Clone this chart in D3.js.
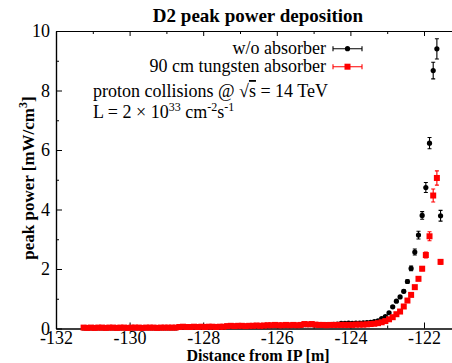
<!DOCTYPE html>
<html>
<head>
<meta charset="utf-8">
<script src="https://cdn.jsdelivr.net/npm/d3@7"></script>
<style>
  body { margin: 0; background: #fff; }
  svg { display: block; font-family: "Liberation Serif", "Times New Roman", serif; }
</style>
</head>
<body>
<svg id="chart" width="452" height="363"></svg>
<script>
// ---------------- data ----------------
const distance = [
  -131.25, -131.15, -131.05, -130.95, -130.85, -130.75, -130.65, -130.55, -130.45, -130.35,
  -130.25, -130.15, -130.05, -129.95, -129.85, -129.75, -129.65, -129.55, -129.45, -129.35,
  -129.25, -129.15, -129.05, -128.95, -128.85, -128.75, -128.65, -128.55, -128.45, -128.35,
  -128.25, -128.15, -128.05, -127.95, -127.85, -127.75, -127.65, -127.55, -127.45, -127.35,
  -127.25, -127.15, -127.05, -126.95, -126.85, -126.75, -126.65, -126.55, -126.45, -126.35,
  -126.25, -126.15, -126.05, -125.95, -125.85, -125.75, -125.65, -125.55, -125.45, -125.35,
  -125.25, -125.15, -125.05, -124.95, -124.85, -124.75, -124.65, -124.55, -124.45, -124.35,
  -124.25, -124.15, -124.05, -123.95, -123.85, -123.75, -123.65, -123.55, -123.45, -123.35,
  -123.25, -123.15, -123.05, -122.95, -122.85, -122.75, -122.65, -122.55, -122.45, -122.35,
  -122.25, -122.15, -122.05, -121.95, -121.85, -121.75, -121.65, -121.55
];
const noAbsorber = [
  0.02, 0.02, 0.02, 0.02, 0.02, 0.02, 0.02, 0.02, 0.02, 0.02,
  0.02, 0.02, 0.02, 0.02, 0.02, 0.02, 0.02, 0.02, 0.02, 0.02,
  0.02, 0.02, 0.02, 0.02, 0.02, 0.02, 0.04, 0.05, 0.04, 0.04,
  0.05, 0.04, 0.05, 0.05, 0.05, 0.05, 0.04, 0.05, 0.05, 0.07,
  0.08, 0.07, 0.08, 0.08, 0.07, 0.08, 0.08, 0.09, 0.08, 0.09,
  0.10, 0.10, 0.11, 0.10, 0.10, 0.11, 0.10, 0.11, 0.10, 0.11,
  0.13, 0.13, 0.13, 0.12, 0.11, 0.11, 0.12, 0.13, 0.14, 0.15,
  0.17, 0.17, 0.18, 0.17, 0.18, 0.18, 0.19, 0.20, 0.21, 0.23,
  0.26, 0.33, 0.40, 0.53, 0.73, 0.92, 1.06, 1.25, 1.58, 2.02,
  2.57, 3.14, 3.80, 4.74, 6.23, 8.67, 9.40, 3.79
];
const noAbsorberErr = [
  0.03, 0.03, 0.03, 0.03, 0.03, 0.03, 0.03, 0.03, 0.03, 0.03,
  0.03, 0.03, 0.03, 0.03, 0.03, 0.03, 0.03, 0.03, 0.03, 0.03,
  0.03, 0.03, 0.03, 0.03, 0.03, 0.03, 0.03, 0.03, 0.03, 0.03,
  0.03, 0.03, 0.03, 0.03, 0.03, 0.03, 0.03, 0.03, 0.03, 0.03,
  0.03, 0.03, 0.03, 0.03, 0.03, 0.03, 0.03, 0.03, 0.03, 0.03,
  0.03, 0.03, 0.03, 0.03, 0.03, 0.03, 0.03, 0.03, 0.03, 0.03,
  0.03, 0.03, 0.03, 0.03, 0.03, 0.03, 0.03, 0.03, 0.03, 0.03,
  0.03, 0.03, 0.03, 0.03, 0.03, 0.03, 0.03, 0.03, 0.03, 0.03,
  0.03, 0.03, 0.03, 0.03, 0.03, 0.03, 0.04, 0.05, 0.06, 0.08,
  0.10, 0.13, 0.13, 0.17, 0.19, 0.28, 0.34, 0.18
];
const tungsten = [
  0.03, 0.02, 0.03, 0.02, 0.03, 0.03, 0.02, 0.03, 0.03, 0.02,
  0.03, 0.03, 0.02, 0.03, 0.03, 0.03, 0.02, 0.03, 0.03, 0.03,
  0.02, 0.03, 0.03, 0.03, 0.03, 0.03, 0.05, 0.06, 0.05, 0.05,
  0.06, 0.05, 0.06, 0.05, 0.06, 0.06, 0.05, 0.06, 0.06, 0.08,
  0.09, 0.08, 0.09, 0.09, 0.08, 0.09, 0.09, 0.10, 0.09, 0.10,
  0.11, 0.11, 0.12, 0.11, 0.11, 0.12, 0.11, 0.12, 0.11, 0.12,
  0.15, 0.14, 0.15, 0.13, 0.12, 0.12, 0.11, 0.12, 0.12, 0.12,
  0.12, 0.12, 0.12, 0.12, 0.13, 0.13, 0.13, 0.14, 0.15, 0.16,
  0.18, 0.21, 0.25, 0.31, 0.38, 0.48, 0.57, 0.74, 0.94, 1.13,
  1.39, 1.67, 2.01, 2.47, 3.10, 4.47, 5.06, 2.24
];
const tungstenErr = [
  0.01, 0.01, 0.01, 0.01, 0.01, 0.01, 0.01, 0.01, 0.01, 0.01,
  0.01, 0.01, 0.01, 0.01, 0.01, 0.01, 0.01, 0.01, 0.01, 0.01,
  0.01, 0.01, 0.01, 0.01, 0.01, 0.01, 0.01, 0.01, 0.01, 0.01,
  0.01, 0.01, 0.01, 0.01, 0.01, 0.01, 0.01, 0.01, 0.01, 0.01,
  0.01, 0.01, 0.01, 0.01, 0.01, 0.01, 0.01, 0.01, 0.01, 0.01,
  0.01, 0.01, 0.01, 0.01, 0.01, 0.01, 0.01, 0.01, 0.01, 0.01,
  0.01, 0.01, 0.01, 0.01, 0.01, 0.01, 0.01, 0.01, 0.01, 0.01,
  0.01, 0.01, 0.01, 0.01, 0.01, 0.01, 0.01, 0.01, 0.01, 0.01,
  0.01, 0.01, 0.01, 0.02, 0.02, 0.02, 0.03, 0.03, 0.04, 0.04,
  0.05, 0.06, 0.07, 0.10, 0.15, 0.22, 0.24, 0.08
];
const xTicks = [-132, -130, -128, -126, -124, -122];
const xMinorTicks = [-131, -129, -127, -125, -123];
const yTicks = [0, 2, 4, 6, 8, 10];
const yMinorTicks = [1, 3, 5, 7, 9];
const seriesNames = ["w/o absorber", "90 cm tungsten absorber"];
const seriesColors = ["#000000", "#ff0000"];

// ---------------- layout ----------------
const svg = d3.select("#chart");
const plotLeft = 56, plotTop = 31, plotBottom = 328.5;
const x = d3.scaleLinear().domain([-132, -121]).range([plotLeft, 460.8]);
const y = d3.scaleLinear().domain([0, 10]).range([plotBottom, plotTop]);
const fmt = d => String(d);

// axes
svg.append("g").attr("transform", `translate(0,${plotBottom})`)
  .call(d3.axisBottom(x).tickValues(xTicks).tickFormat(fmt).tickSizeInner(-6).tickSizeOuter(0).tickPadding(3));
svg.append("g").attr("transform", `translate(0,${plotBottom})`)
  .call(d3.axisBottom(x).tickValues(xMinorTicks).tickFormat("").tickSizeInner(-3).tickSizeOuter(0));
svg.append("g").attr("transform", `translate(0,${plotTop})`)
  .call(d3.axisTop(x).tickValues(xTicks).tickFormat("").tickSizeInner(-5).tickSizeOuter(0));
svg.append("g").attr("transform", `translate(0,${plotTop})`)
  .call(d3.axisTop(x).tickValues(xMinorTicks).tickFormat("").tickSizeInner(-3).tickSizeOuter(0));
svg.append("g").attr("transform", `translate(${plotLeft},0)`)
  .call(d3.axisLeft(y).tickValues(yTicks).tickFormat(fmt).tickSizeInner(-6).tickSizeOuter(0).tickPadding(6));
svg.append("g").attr("transform", `translate(${plotLeft},0)`)
  .call(d3.axisLeft(y).tickValues(yMinorTicks).tickFormat("").tickSizeInner(-3).tickSizeOuter(0));

svg.selectAll(".domain").attr("stroke", "#000").attr("stroke-width", 1.2);
svg.selectAll(".tick line").attr("stroke", "#000");
svg.selectAll(".tick text").attr("font-family", "Liberation Serif").attr("font-size", 18).attr("fill", "#000");

// data
function series(vals, errs, i) {
  return distance.map((d, k) => ({ x: d, y: vals[k], e: errs[k], s: i }));
}
const black = series(noAbsorber, noAbsorberErr, 0);
const red = series(tungsten, tungstenErr, 1);

function drawErr(g, data, color) {
  const cap = 2;
  g.selectAll("path.err").data(data).join("path").attr("class", "err")
    .attr("fill", "none").attr("stroke", color).attr("stroke-width", 1.1)
    .attr("d", d => {
      const cx = x(d.x), y0 = y(d.y - d.e), y1 = y(d.y + d.e);
      return `M${cx},${y0}V${y1}M${cx - cap},${y0}H${cx + cap}M${cx - cap},${y1}H${cx + cap}`;
    });
}
const gBlack = svg.append("g");
drawErr(gBlack, black, "#000");
gBlack.selectAll("circle").data(black).join("circle")
  .attr("cx", d => x(d.x)).attr("cy", d => y(d.y)).attr("r", 2.6).attr("fill", "#000");

const gRed = svg.append("g");
drawErr(gRed, red, "#ff0000");
const sq = 6;
gRed.selectAll("rect").data(red).join("rect")
  .attr("x", d => x(d.x) - sq / 2).attr("y", d => y(d.y) - sq / 2)
  .attr("width", sq).attr("height", sq).attr("fill", "#ff0000");

// title and labels
svg.append("text").attr("x", 258).attr("y", 22).attr("text-anchor", "middle")
  .attr("font-weight", "bold").attr("font-size", 19).text("D2 peak power deposition");
svg.append("text").attr("x", 258).attr("y", 360.5).attr("text-anchor", "middle")
  .attr("font-weight", "bold").attr("font-size", 16).text("Distance from IP [m]");
const yl = svg.append("text").attr("transform", "translate(34,178) rotate(-90)")
  .attr("text-anchor", "middle").attr("font-weight", "bold").attr("font-size", 17);
yl.append("tspan").text("peak power [mW/cm");
yl.append("tspan").attr("dy", -7).attr("font-size", 12).text("3");
yl.append("tspan").attr("dy", 7).text("]");

// legend
const legY = [48.7, 66.7];
seriesNames.forEach((name, i) => {
  const g = svg.append("g");
  g.append("text").attr("x", 326).attr("y", legY[i] + 5.5).attr("text-anchor", "end")
    .attr("font-size", 18).text(name);
  const c = seriesColors[i];
  g.append("path").attr("fill", "none").attr("stroke", c).attr("stroke-width", 1.1)
    .attr("d", `M333,${legY[i]}H362M333,${legY[i] - 2.5}V${legY[i] + 2.5}M362,${legY[i] - 2.5}V${legY[i] + 2.5}`);
  if (i === 0) g.append("circle").attr("cx", 347.5).attr("cy", legY[i]).attr("r", 2.6).attr("fill", c);
  else g.append("rect").attr("x", 347.5 - 3).attr("y", legY[i] - 3).attr("width", 6).attr("height", 6).attr("fill", c);
});

// annotations
const t1 = svg.append("text").attr("x", 93).attr("y", 97).attr("font-size", 18);
t1.append("tspan").text("proton collisions @ √");
t1.append("tspan").attr("text-decoration", "overline").text("s");
t1.append("tspan").text(" = 14 TeV");
const t2 = svg.append("text").attr("x", 93).attr("y", 118).attr("font-size", 18);
t2.append("tspan").text("L = 2 × 10");
t2.append("tspan").attr("dy", -7).attr("font-size", 12).text("33");
t2.append("tspan").attr("dy", 7).text(" cm");
t2.append("tspan").attr("dy", -7).attr("font-size", 12).text("-2");
t2.append("tspan").attr("dy", 7).text("s");
t2.append("tspan").attr("dy", -7).attr("font-size", 12).text("-1");
</script>
</body>
</html>
